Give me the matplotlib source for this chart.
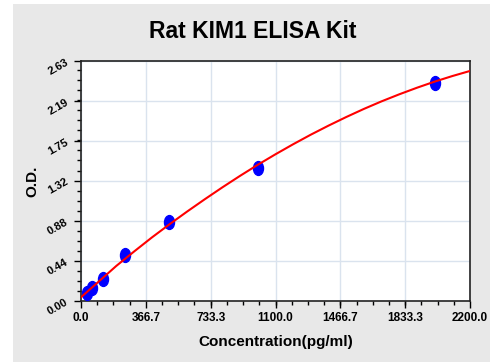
import matplotlib
matplotlib.use("Agg")
import matplotlib.pyplot as plt
from matplotlib.patches import Rectangle
from matplotlib.path import Path
from matplotlib.transforms import Affine2D
from matplotlib.ticker import AutoMinorLocator

plt.rcParams['font.family'] = ['Liberation Sans', 'DejaVu Sans']
plt.rcParams['font.weight'] = 'bold'

# standards (pg/ml) and measured O.D.
conc = [31.25, 62.5, 125, 250, 500, 1000, 2000]
od = [0.084, 0.146, 0.238, 0.501, 0.862, 1.454, 2.392]

# fitted standard curve
curve_x = [0, 100, 200, 300, 400, 500, 600, 700, 800, 900, 1000, 1100, 1200, 1300,
           1400, 1500, 1600, 1700, 1800, 1900, 2000, 2100, 2200]
curve_od = [0.041, 0.213, 0.385, 0.542, 0.695, 0.840, 0.980, 1.115, 1.246, 1.372,
            1.493, 1.608, 1.718, 1.823, 1.922, 2.016, 2.105, 2.188, 2.265, 2.337,
            2.404, 2.465, 2.521]

xticks = [0.0, 366.7, 733.3, 1100.0, 1466.7, 1833.3, 2200.0]
yticks = [0.00, 0.44, 0.88, 1.32, 1.75, 2.19, 2.63]

fig = plt.figure(figsize=(4.9, 3.62), dpi=100)
fig.patch.set_facecolor('white')
# gray panel behind the chart
fig.patches.append(Rectangle((13/490, 0), 1 - 13/490, 1 - 4/362, transform=fig.transFigure,
                             facecolor='#e8e8e8', edgecolor='none', zorder=-10))

ax = fig.add_axes([81/490, 1 - 301/362, 389/490, 240/362])
ax.set_facecolor('white')

# slightly tall oval markers
oval = Path.unit_circle().transformed(Affine2D().scale(0.72, 1.0))
ax.plot(conc, od, linestyle='none', marker=oval, color='#0000ff', markersize=10, zorder=3)
ax.plot(curve_x, curve_od, '-', color='#ff0000', linewidth=1.5, zorder=4)

ax.set_xlim(0, 2200)
ax.set_ylim(0, 2.63)
ax.set_xticks(xticks)
ax.set_xticklabels([f"{v:.1f}" for v in xticks], fontsize=8.5, fontweight='bold')
ax.set_yticks(yticks)
ax.set_yticklabels([f"{v:.2f}" for v in yticks], fontsize=8, fontweight='bold', rotation=30)
ax.xaxis.set_minor_locator(AutoMinorLocator(4))
ax.yaxis.set_minor_locator(AutoMinorLocator(4))
ax.tick_params(which='major', length=5, width=1, color='black', pad=3)
ax.tick_params(which='minor', length=3, width=1, color='black')
ax.grid(True, which='major', color='#dae3ee', linewidth=1)
ax.set_axisbelow(True)
for s in ax.spines.values():
    s.set_linewidth(1.2)
    s.set_color('#222222')

ax.set_xlabel("Concentration(pg/ml)", fontsize=11, fontweight='bold', labelpad=8)
ax.set_ylabel("O.D.", fontsize=11, fontweight='bold', labelpad=5)
fig.text(253/490, 1 - 32/362, "Rat KIM1 ELISA Kit", ha='center', va='center',
         fontsize=16.5, fontweight='bold')

fig.savefig("out.png", dpi=100)
